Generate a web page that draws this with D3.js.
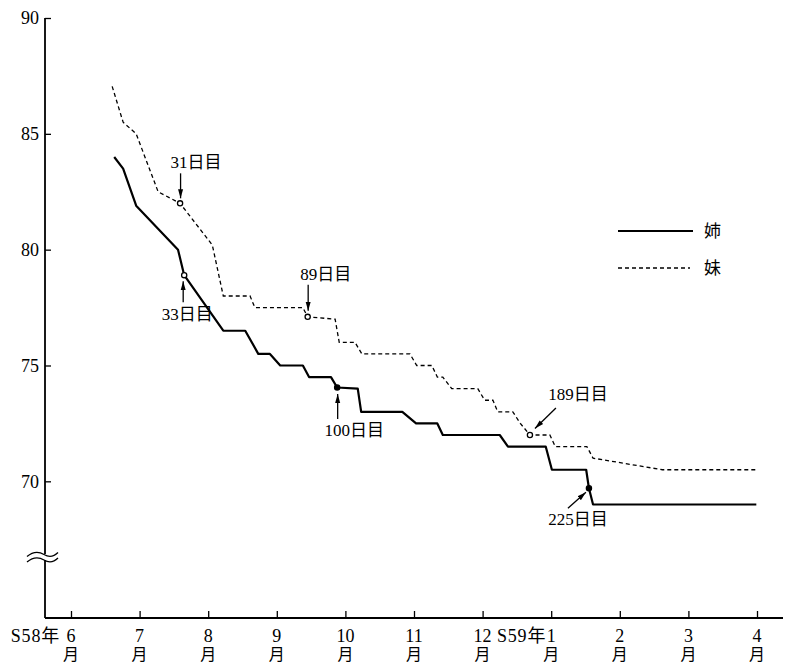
<!DOCTYPE html>
<html><head><meta charset="utf-8">
<script src="https://cdn.jsdelivr.net/npm/d3@7"></script>
<style>body{margin:0;background:#fff} svg{display:block}</style>
</head><body>
<svg id="c" width="787" height="664"></svg>
<script>
// ---- data ----
const monthTicks  = [0,1,2,3,4,5,6,7,8,9,10];
const monthLabels = ["6","7","8","9","10","11","12","1","2","3","4"];
const yearLabels  = [{tick:0, text:"S58年"}, {tick:7, text:"S59年"}];
const weightTicks = [70,75,80,85,90];
const seriesNames = ["姉","妹"];

const sisterMonth  = [0.63,0.76,0.95,1.56,1.65,2.22,2.54,2.73,2.90,3.05,3.38,3.47,3.79,3.88,4.18,4.23,4.83,5.03,5.34,5.42,6.25,6.37,6.92,7.01,7.51,7.55,7.61,9.99];
const sisterWeight = [84.0,83.5,81.9,80.0,78.9,76.5,76.5,75.5,75.5,75.0,75.0,74.5,74.5,74.05,74.0,73.0,73.0,72.5,72.5,72.0,72.0,71.5,71.5,70.5,70.5,69.7,69.0,69.0];

const youngerMonth  = [0.60,0.76,0.95,1.27,1.59,2.06,2.22,2.61,2.68,3.38,3.45,3.85,3.91,4.14,4.24,4.94,5.04,5.26,5.34,5.42,5.55,5.93,6.03,6.15,6.22,6.44,6.55,6.69,6.98,7.06,7.52,7.61,8.62,10.01];
const youngerWeight = [87.05,85.5,85.0,82.5,82.0,80.2,78.0,78.0,77.5,77.5,77.1,77.0,76.0,76.0,75.5,75.5,75.0,75.0,74.5,74.5,74.0,74.0,73.5,73.5,73.0,73.0,72.5,72.0,72.0,71.5,71.5,71.0,70.5,70.5];

const annotLabels = ["31日目","33日目","89日目","100日目","189日目","225日目"];
const annotMonth  = [1.59,1.65,3.45,3.88,6.69,7.55];
const annotWeight = [82.0,78.9,77.1,74.05,72.0,69.7];
const annotFilled = [false,false,false,true,false,true];

// ---- layout ----
const axisX = 45, axisBottom = 618, axisTop = 18, axisRight = 783;
const breakY = 557;
const annotLayout = [
  {tx:16, ty:-35, ax1:0.5, ay1:-30, ax2:0.5, ay2:-5},
  {tx:3,  ty:45,  ax1:-1,  ay1:27,  ax2:-1,  ay2:6},
  {tx:18, ty:-37, ax1:0.5, ay1:-32, ax2:0.5, ay2:-6},
  {tx:17, ty:48.5,ax1:0.5, ay1:31.5,ax2:0.5, ay2:6.5},
  {tx:48, ty:-35, ax1:26,  ay1:-27, ax2:5,   ay2:-6.5},
  {tx:-11,ty:37,  ax1:-21, ay1:20,  ax2:-3,  ay2:4}
];
const FONT = "'Liberation Serif','Noto Sans CJK JP',serif";

const svg = d3.select("#c");
const x = d3.scaleLinear().domain([0,10]).range([71,757]);
const y = d3.scaleLinear().domain([64.1,90]).range([axisBottom, axisTop]);

svg.append("defs").append("marker")
  .attr("id","ah").attr("viewBox","0 0 10 10").attr("refX",10).attr("refY",5)
  .attr("markerWidth",9).attr("markerHeight",9).attr("markerUnits","userSpaceOnUse")
  .attr("orient","auto")
  .append("path").attr("d","M0,2.2 L10,5 L0,7.8 Z").attr("fill","#000");

// y axis
const yAx = svg.append("g").attr("transform",`translate(${axisX},0)`)
  .call(d3.axisLeft(y).tickValues(weightTicks).tickSizeInner(-6).tickSizeOuter(0).tickPadding(6));
yAx.select(".domain").remove();
yAx.selectAll(".tick line").attr("stroke","#000").attr("stroke-width",1.3);
yAx.selectAll(".tick text").attr("font-family",FONT).attr("font-size",18).attr("fill","#000");

// y axis line with break
svg.append("line").attr("x1",axisX).attr("x2",axisX).attr("y1",axisTop).attr("y2",breakY-3)
  .attr("stroke","#000").attr("stroke-width",1.8);
svg.append("line").attr("x1",axisX).attr("x2",axisX).attr("y1",breakY+3).attr("y2",axisBottom)
  .attr("stroke","#000").attr("stroke-width",1.8);
const wave = (dy) => `M27,${breakY+dy+2} C33,${breakY+dy-3} 39,${breakY+dy-3} 44,${breakY+dy} S53,${breakY+dy+3} 58,${breakY+dy-2}`;
svg.append("path").attr("d",wave(-2.5)).attr("fill","none").attr("stroke","#000").attr("stroke-width",1.3);
svg.append("path").attr("d",wave(3)).attr("fill","none").attr("stroke","#000").attr("stroke-width",1.3);

// x axis
const xAx = svg.append("g").attr("transform",`translate(0,${axisBottom})`)
  .call(d3.axisBottom(x).tickValues(monthTicks).tickSizeInner(-7).tickSizeOuter(0).tickFormat(""));
xAx.select(".domain").remove();
xAx.selectAll(".tick line").attr("stroke","#000").attr("stroke-width",1.3);
svg.append("line").attr("x1",axisX).attr("x2",axisRight).attr("y1",axisBottom).attr("y2",axisBottom)
  .attr("stroke","#000").attr("stroke-width",1.8);

const xl = svg.append("g").attr("font-family",FONT).attr("fill","#000");
monthTicks.forEach((m,i) => {
  xl.append("text").attr("x",x(m)).attr("y",642).attr("text-anchor","middle")
    .attr("font-size",18).text(monthLabels[i]);
  xl.append("text").attr("x",x(m)).attr("y",660).attr("text-anchor","middle")
    .attr("font-size",16).text("月");
});
yearLabels.forEach(d => {
  const gap = d.tick === 0 ? 11 : 5;
  xl.append("text").attr("x",x(d.tick)-gap).attr("y",642).attr("text-anchor","end")
    .attr("font-size",18).attr("letter-spacing",0.8).text(d.text);
});

// lines
const sister  = sisterMonth.map((m,i) => [m, sisterWeight[i]]);
const younger = youngerMonth.map((m,i) => [m, youngerWeight[i]]);
const line = d3.line().x(d => x(d[0])).y(d => y(d[1]));
svg.append("path").datum(sister).attr("d",line).attr("fill","none")
  .attr("stroke","#000").attr("stroke-width",2.2).attr("stroke-linejoin","round");
svg.append("path").datum(younger).attr("d",line).attr("fill","none")
  .attr("stroke","#000").attr("stroke-width",1.3).attr("stroke-dasharray","4,3");

// annotations
annotLabels.forEach((lab,i) => {
  const px = x(annotMonth[i]), py = y(annotWeight[i]);
  const L = annotLayout[i];
  svg.append("circle").attr("cx",px).attr("cy",py).attr("r",2.6)
    .attr("fill", annotFilled[i] ? "#000" : "#fff").attr("stroke","#000").attr("stroke-width",1.3);
  svg.append("line").attr("x1",px+L.ax1).attr("y1",py+L.ay1).attr("x2",px+L.ax2).attr("y2",py+L.ay2)
    .attr("stroke","#000").attr("stroke-width",1.3).attr("marker-end","url(#ah)");
  svg.append("text").attr("x",px+L.tx).attr("y",py+L.ty).attr("text-anchor","middle")
    .attr("font-family",FONT).attr("font-size",17).attr("fill","#000").text(lab);
});

// legend
const leg = svg.append("g");
leg.append("line").attr("x1",618).attr("x2",693).attr("y1",231).attr("y2",231)
  .attr("stroke","#000").attr("stroke-width",2.2);
leg.append("line").attr("x1",618).attr("x2",690).attr("y1",268).attr("y2",268)
  .attr("stroke","#000").attr("stroke-width",1.3).attr("stroke-dasharray","4,3");
leg.append("text").attr("x",704).attr("y",237).attr("font-family",FONT).attr("font-size",17).text(seriesNames[0]);
leg.append("text").attr("x",704).attr("y",274).attr("font-family",FONT).attr("font-size",17).text(seriesNames[1]);
</script>
</body></html>
